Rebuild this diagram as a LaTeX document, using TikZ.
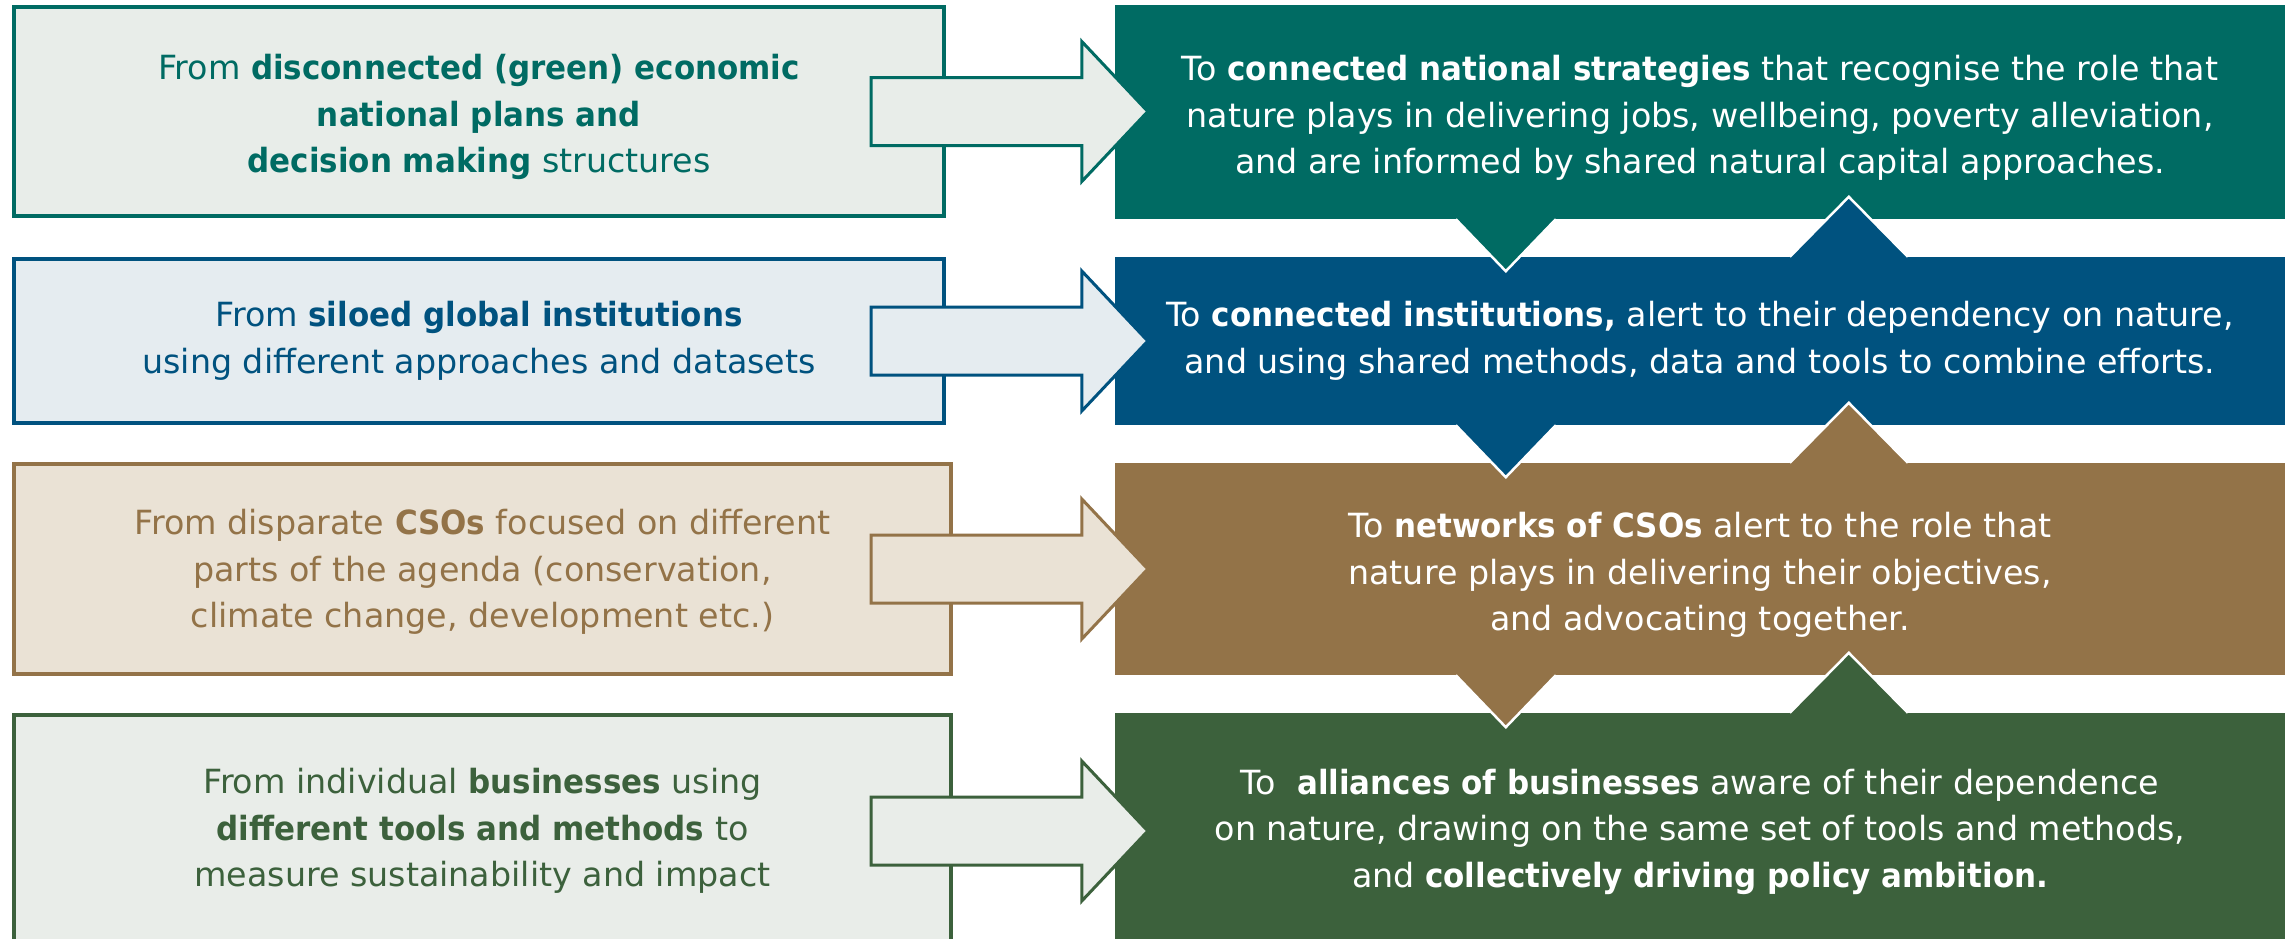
\documentclass[tikz,border=0pt]{standalone}
\usepackage{fontspec}
\setmainfont{DejaVu Sans}[BoldFeatures={FakeStretch=0.93}]
\usetikzlibrary{calc}
\definecolor{cteal}{HTML}{006B63}
\definecolor{cblue}{HTML}{00527F}
\definecolor{cbrown}{HTML}{937348}
\definecolor{cgreen}{HTML}{3C613C}
\definecolor{fteal}{HTML}{E8EDE9}
\definecolor{fblue}{HTML}{E5ECF0}
\definecolor{fbrown}{HTML}{EAE2D5}
\definecolor{fgreen}{HTML}{E9EDE9}
\tikzset{
  txt/.style={align=center,inner sep=0pt,font=\fontsize{33.3}{46.5}\selectfont},
  lbox/.style={txt,draw=#1,text=#1,line width=4pt},
  rbox/.style={txt,fill=#1,text=white},
  blockarrow/.style={draw=#1,line width=3pt,line join=miter},
  notch/.style={fill=#1,draw=white,line width=2.5pt,line join=miter},
}
\newcommand\dn[1]{\rule{0pt}{#1pt}}
% #1 left node, #2 right node, #3 line colour, #4 fill colour
\newcommand\blockarr[4]{%
  \path (L1.east |- #1.east) ++(-75,0) coordinate (#1-tail);
  \path (#2.west |- #1.east) ++(33,0) coordinate (#1-tip);
  \filldraw[blockarrow=#3,fill=#4]
    ($(#1-tail)+(0,-34)$) -- ($(#1-tip)+(-66,-34)$) -- ($(#1-tip)+(-66,-70)$)
    -- (#1-tip)
    -- ($(#1-tip)+(-66,70)$) -- ($(#1-tip)+(-66,34)$) -- ($(#1-tail)+(0,34)$) -- cycle;
}
% #1 upper node, #2 lower node
\newcommand\notches[2]{%
  \path (#1.south west) ++(391,0) coordinate (#1-d);
  \path (#2.north west) ++(734,0) coordinate (#2-u);
  \filldraw[notch=#1col] ($(#1-d)+(-50,0)$) -- ($(#1-d)+(0,52)$) -- ($(#1-d)+(50,0)$);
  \filldraw[notch=#2col] ($(#2-u)+(-59,0)$) -- ($(#2-u)+(0,-60)$) -- ($(#2-u)+(59,0)$);
}
\colorlet{R1col}{cteal}
\colorlet{R2col}{cblue}
\colorlet{R3col}{cbrown}
\colorlet{R4col}{cgreen}
\begin{document}
\begin{tikzpicture}[x=1pt,y=-1pt]
\useasboundingbox (0,0) rectangle (2295,938);
\clip (0,0) rectangle (2295,938);
\fill[white] (0,0) rectangle (2295,938);

% left boxes
\node[lbox=cteal,fill=fteal,minimum width=930pt,minimum height=209pt] (L1) at (479,111.5)
  {\dn{37}From \textbf{disconnected (green) economic}\\\textbf{national plans and}\\\textbf{decision making} structures};
\node[lbox=cblue,fill=fblue,minimum width=930pt,minimum height=164pt] (L2) at (479,341)
  {From \textbf{siloed global institutions}\\using different approaches and datasets};
\node[lbox=cbrown,fill=fbrown,minimum width=937pt,minimum height=210pt] (L3) at (482.5,569)
  {\dn{31}From disparate \textbf{CSOs} focused on different\\parts of the agenda (conservation,\\climate change, development etc.)};
\node[lbox=cgreen,fill=fgreen,minimum width=937pt,minimum height=232pt] (L4) at (482.5,831)
  {From individual \textbf{businesses} using\\\textbf{different tools and methods} to\\measure sustainability and impact};

% right boxes
\node[rbox=cteal,minimum width=1170pt,minimum height=214pt] (R1) at (1700,112)
  {\dn{37}To \textbf{connected national strategies} that recognise the role that\\nature plays in delivering jobs, wellbeing, poverty alleviation,\\and are informed by shared natural capital approaches.};
\node[rbox=cblue,minimum width=1170pt,minimum height=168pt] (R2) at (1700,341)
  {To \textbf{connected institutions,} alert to their dependency on nature,\\and using shared methods, data and tools to combine efforts.};
\node[rbox=cbrown,minimum width=1170pt,minimum height=212pt] (R3) at (1700,569)
  {\dn{37}To \textbf{networks of CSOs} alert to the role that\\nature plays in delivering their objectives,\\and advocating together.};
\node[rbox=cgreen,minimum width=1170pt,minimum height=237pt] (R4) at (1700,831.5)
  {To\ \ \textbf{alliances of businesses} aware of their dependence\\on nature, drawing on the same set of tools and methods,\\and \textbf{collectively driving policy ambition.}};

% notches between right boxes
\notches{R1}{R2}
\notches{R2}{R3}
\notches{R3}{R4}

% block arrows
\blockarr{L1}{R1}{cteal}{fteal}
\blockarr{L2}{R2}{cblue}{fblue}
\blockarr{L3}{R3}{cbrown}{fbrown}
\blockarr{L4}{R4}{cgreen}{fgreen}
\end{tikzpicture}
\end{document}
